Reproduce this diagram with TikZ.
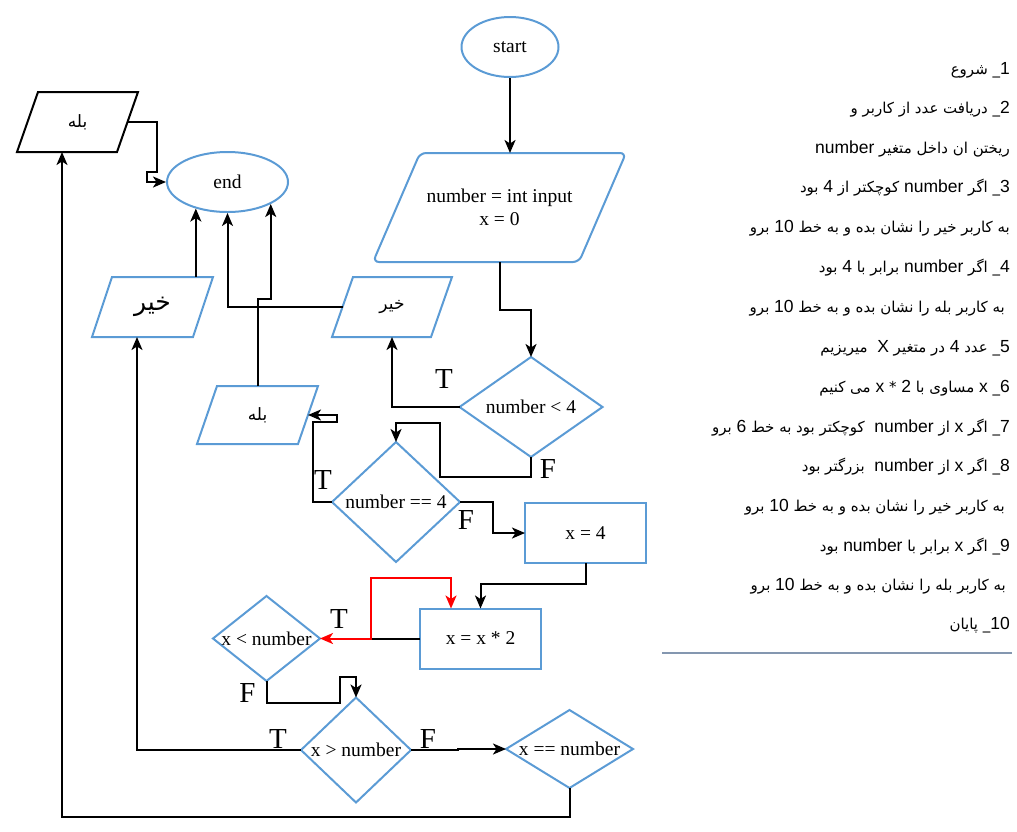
\documentclass[tikz,border=0pt]{standalone}
\usepackage{fontspec}
\setmainfont{Liberation Serif}
\newfontfamily\arabicfont[Script=Arabic]{DejaVu Sans}
\newfontfamily\rlat{Liberation Sans}
\TeXXeTstate=1
\usetikzlibrary{shapes.geometric,arrows.meta,calc}
\definecolor{flowblue}{RGB}{91,155,213}
\definecolor{rulecol}{RGB}{132,151,176}
\newcommand\latseg[1]{\beginL{\rlat\fontsize{17.5}{20}\selectfont #1}\endL}
\newcommand\paraline[3]{\draw[#3] (#1.south west) -- ($(#1.north west)+(#2,0)$) -- (#1.north east) -- ($(#1.south east)-(#2,0)$) -- cycle;}
\begin{document}
\begin{tikzpicture}[x=1pt,y=-1pt,
  nodefont/.style={font=\fontsize{19.5}{23}\selectfont},
  term/.style={ellipse, draw=flowblue, line width=2pt, inner sep=0pt, nodefont},
  decis/.style={diamond, draw=flowblue, line width=2pt, inner sep=0pt, outer sep=0pt, nodefont},
  proc/.style={rectangle, draw=flowblue, line width=2pt, inner sep=0pt, outer sep=0pt, nodefont},
  pbox/.style={rectangle, draw=none, inner sep=0pt, outer sep=0pt, nodefont},
  bshape/.style={draw=flowblue, line width=2pt},
  kshape/.style={draw=black, line width=2pt},
  conn/.style={draw=black, line width=2pt},
  conna/.style={conn, -{Stealth[length=13pt,width=11pt,inset=3.5pt]}},
  reda/.style={draw=red, line width=2pt, {Stealth[length=13pt,width=11pt,inset=3.5pt]}-{Stealth[length=13pt,width=11pt,inset=3.5pt]}},
  tf/.style={font=\fontsize{29}{30}\selectfont, inner sep=0pt},
  rtext/.style={font=\arabicfont\fontsize{15}{18}\selectfont, anchor=east, inner sep=0pt}
]
\useasboundingbox (0,0) rectangle (1017,831);

% ---- flowchart nodes ----
\node[term, minimum width=97pt, minimum height=60pt] (start) at (510,47) {start};
\node[pbox, minimum width=253pt, minimum height=109pt, align=center] (in) at (499.5,207.5) {number = int input\\x = 0};
\paraline{in}{47}{bshape, rounded corners=6pt}
\node[decis, minimum width=143pt, minimum height=100pt] (n4) at (531,407) {\makebox[0pt]{number < 4}};
\node[pbox, minimum width=120pt, minimum height=60pt] (nohmid) at (392,307) {\arabicfont\fontsize{17}{20}\selectfont\beginR خير\endR};
\paraline{nohmid}{21}{bshape}
\node[pbox, minimum width=121pt, minimum height=58pt] (yesmid) at (257.5,415) {\arabicfont\fontsize{17}{20}\selectfont\beginR بله\endR};
\paraline{yesmid}{20}{bshape}
\node[decis, minimum width=128pt, minimum height=120pt] (n4eq) at (396,502) {\makebox[0pt]{number == 4}};
\node[proc, minimum width=121pt, minimum height=60pt] (x4) at (585.5,533) {x = 4};
\node[proc, minimum width=121pt, minimum height=60pt] (x2) at (480.5,638.5) {x = x * 2};
\node[decis, minimum width=107pt, minimum height=85pt] (xlt) at (266.5,638.5) {\makebox[0pt]{x < number}};
\node[decis, minimum width=110pt, minimum height=105pt] (xgt) at (356,750) {\makebox[0pt]{x > number}};
\node[decis, minimum width=127pt, minimum height=78pt] (xeq) at (569.5,749) {\makebox[0pt]{x == number}};
\node[pbox, minimum width=121pt, minimum height=60pt] (nohbig) at (152.5,307) {\arabicfont\fontsize{25}{28}\selectfont\beginR خير\endR};
\paraline{nohbig}{20}{bshape}
\node[pbox, minimum width=121pt, minimum height=60pt] (yestl) at (77.5,122) {\arabicfont\fontsize{17}{20}\selectfont\beginR بله\endR};
\paraline{yestl}{21}{kshape}
\node[term, minimum width=121pt, minimum height=60pt] (end) at (227.5,182) {end};

% ---- connectors ----
\draw[conna] (start.south) -- (start.south |- in.north);
\draw[conna] (in.south) -- ++(0,48) -| (n4.north);
\draw[conna] (n4.west) -| (nohmid.south);
\draw[conna] ($(nohmid.west)+(10.5,0)$) -| (end.south);
\draw[conna] (yesmid.north) -- ++(0,-87) -| (end.-27);
\draw[conna] (end.-140 |- nohbig.north) -- (end.-140);
\draw[conna] ($(yestl.east)+(-10.5,0)$) -- ++(29.5,0) -- ++(0,50) -- ++(-10,0) |- (end.west);
\draw[conna] (n4.south) -- ++(0,20) -- ++(-91,0) -- ++(0,-54) -| (n4eq.north);
\draw[conna] (n4eq.west) -- ++(-19,0) -- ++(0,-80) -- ++(24,0) -- ++(0,-7) -- ($(yesmid.east)+(-10,0)$);
\draw[conna] (n4eq.east) -- ++(33,0) |- (x4.west);
\draw[conna] (x4.south) -- ++(0,21) -| (x2.north);
\coordinate (j) at ($(x2.west)+(-49,0)$);
\draw[conn] (x2.west) -- (j);
\draw[reda] (xlt.east) -- (j) -- ++(0,-61) -| ($(x2.north)+(-29.5,0)$);
\draw[conna] (xlt.south) -- ++(0,22) -- ++(73.5,0) -- ++(0,-26) -| (xgt.north);
\draw[conna] (xgt.west) -| ($(nohbig.south)+(-15.5,0)$);
\draw[conna] (xgt.east) -- ++(47,0) |- (xeq.west);
\draw[conna] (xeq.south) -- ++(0,29) -| ($(yestl.south)+(-15.5,0)$);

% ---- T / F labels ----
\node[tf] (tn4) at (444,379) {T};
\node[tf] (fn4) at (548,469) {F};
\node[tf] (tn4e) at (323,480) {T};
\node[tf] (fn4e) at (466,520) {F};
\node[tf] (txlt) at (339,619) {T};
\node[tf] (fxlt) at (247.5,693) {F};
\node[tf] (txgt) at (278,739) {T};
\node[tf] (fxgt) at (428,739) {F};

% ---- right-hand list ----
\node[rtext] (r1) at (1010,70) {\beginR\latseg{1}\_ شروع\endR};
\node[rtext] (r2) at (1010,109) {\beginR\latseg{2}\_ دریافت عدد از کاربر و\endR};
\node[rtext] (r3) at (1010,149) {\beginR ریختن ان داخل متغیر \latseg{number}\endR};
\node[rtext] (r4) at (1010,188) {\beginR\latseg{3}\_ اگر \latseg{number} کوچکتر از \latseg{4} بود\endR};
\node[rtext] (r5) at (1010,228) {\beginR به کاربر خیر را نشان بده و به خط \latseg{10} برو\endR};
\node[rtext] (r6) at (1010,268) {\beginR\latseg{4}\_ اگر \latseg{number} برابر با \latseg{4} بود\endR};
\node[rtext] (r7) at (1005,308) {\beginR به کاربر بله را نشان بده و به خط \latseg{10} برو\endR};
\node[rtext] (r8) at (1010,348) {\beginR\latseg{5}\_ عدد \latseg{4} در متغیر \latseg{X}\ \ میریزیم\endR};
\node[rtext] (r9) at (1010,388) {\beginR\latseg{6}\_ \latseg{x} مساوی با \latseg{2} * \latseg{x} می کنیم\endR};
\node[rtext] (r10) at (1010,428) {\beginR\latseg{7}\_ اگر \latseg{x} از \latseg{number}\ \ کوچکتر بود به خط \latseg{6} برو\endR};
\node[rtext] (r11) at (1010,467) {\beginR\latseg{8}\_ اگر \latseg{x} از \latseg{number}\ \ بزرگتر بود\endR};
\node[rtext] (r12) at (1005,507) {\beginR به کاربر خیر را نشان بده و به خط \latseg{10} برو\endR};
\node[rtext] (r13) at (1010,547) {\beginR\latseg{9}\_ اگر \latseg{x} برابر با \latseg{number} بود\endR};
\node[rtext] (r14) at (1006,586) {\beginR به کاربر بله را نشان بده و به خط \latseg{10} برو\endR};
\node[rtext] (r15) at (1010,625) {\beginR\latseg{10}\_ پایان\endR};
\draw[rulecol, line width=1.3pt] (662,653) -- (1012,653);
\end{tikzpicture}
\end{document}
